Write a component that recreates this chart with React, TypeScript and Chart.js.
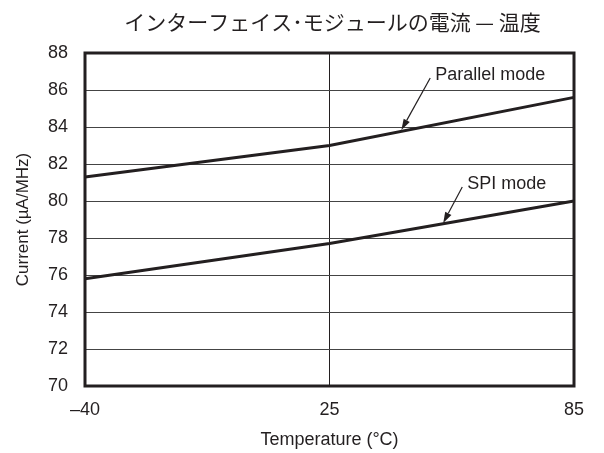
import React, { useEffect, useRef } from "react";
import { Chart, registerables } from "chart.js";

Chart.register(...registerables);

// ---- data ----
const chartTitle = "インターフェイス･モジュールの電流 — 温度";
const xAxisTitle = "Temperature (°C)";
const yAxisTitle = "Current (µA/MHz)";
const temperatureLabels = ["–40", "25", "85"];
const parallelModeCurrent = [81.3, 83.0, 85.6];
const spiModeCurrent = [75.8, 77.7, 80.0];
const yMin = 70;
const yMax = 88;
const yStep = 2;

// annotations (data coordinates: x = category index, y = current)
const annotationLabels = ["Parallel mode", "SPI mode"];
const annotationTailX = [1.412, 1.543];
const annotationTailY = [86.65, 80.76];
const annotationTipX = [1.294, 1.465];
const annotationTipY = [83.84, 78.81];

const INK = "#231f20";
const FONT = "'Liberation Sans', Arial, Helvetica, sans-serif";
const CJK = "'Noto Sans CJK JP', 'Noto Sans', sans-serif";

const framePlugin = {
  id: "frameAndNotes",
  afterDatasetsDraw(chart: any) {
    const { ctx, chartArea: a, scales } = chart;
    const xs = scales.x;
    const ys = scales.y;
    ctx.save();
    ctx.strokeStyle = INK;
    ctx.lineWidth = 3;
    ctx.strokeRect(a.left, a.top, a.right - a.left, a.bottom - a.top);

    ctx.fillStyle = INK;
    ctx.lineWidth = 1.2;
    ctx.font = `18px ${FONT}`;
    ctx.textAlign = "left";
    ctx.textBaseline = "middle";
    for (let i = 0; i < annotationLabels.length; i++) {
      const tx = xs.getPixelForValue(annotationTailX[i]);
      const ty = ys.getPixelForValue(annotationTailY[i]);
      const px = xs.getPixelForValue(annotationTipX[i]);
      const py = ys.getPixelForValue(annotationTipY[i]);
      const ang = Math.atan2(py - ty, px - tx);
      const len = 11;
      const hw = 3.5;
      const bx = px - Math.cos(ang) * len;
      const by = py - Math.sin(ang) * len;
      ctx.beginPath();
      ctx.moveTo(tx, ty);
      ctx.lineTo(bx, by);
      ctx.stroke();
      ctx.beginPath();
      ctx.moveTo(px, py);
      ctx.lineTo(bx + Math.sin(ang) * hw, by - Math.cos(ang) * hw);
      ctx.lineTo(bx - Math.sin(ang) * hw, by + Math.cos(ang) * hw);
      ctx.closePath();
      ctx.fill();
      ctx.fillText(annotationLabels[i], tx + 5, ty - 2.5);
    }

    // chart title, centred over the plot area
    ctx.font = `21px ${CJK}`;
    ctx.textAlign = "center";
    ctx.textBaseline = "middle";
    ctx.fillText(chartTitle, (a.left + a.right) / 2 + 3, a.top - 31);
    ctx.restore();
  },
};

export default function App() {
  const ref = useRef<HTMLCanvasElement | null>(null);

  useEffect(() => {
    if (!ref.current) return;
    const chart = new Chart(ref.current, {
      type: "line",
      data: {
        labels: temperatureLabels,
        datasets: [
          {
            label: "Parallel mode",
            data: parallelModeCurrent,
            borderColor: INK,
            borderWidth: 3,
            pointRadius: 0,
            tension: 0,
            fill: false,
          },
          {
            label: "SPI mode",
            data: spiModeCurrent,
            borderColor: INK,
            borderWidth: 3,
            pointRadius: 0,
            tension: 0,
            fill: false,
          },
        ],
      },
      options: {
        animation: false,
        responsive: false,
        layout: { padding: { left: 0, right: 30, top: 53, bottom: 0 } },
        plugins: {
          legend: { display: false },
          tooltip: { enabled: false },
          title: { display: false },
        },
        scales: {
          x: {
            type: "category",
            offset: false,
            border: { display: false },
            grid: {
              color: (c: any) => (c.index === 1 ? INK : "rgba(0,0,0,0)"),
              lineWidth: 1,
              drawTicks: false,
              tickLength: 0,
            },
            ticks: {
              color: INK,
              font: { family: FONT, size: 18 },
              padding: 13,
              maxRotation: 0,
              autoSkip: false,
            },
            title: {
              display: true,
              text: xAxisTitle,
              color: INK,
              font: { family: FONT, size: 18 },
              padding: { top: 0, bottom: 2 },
            },
            afterFit: (s: any) => {
              s.height = 67;
            },
          },
          y: {
            type: "linear",
            min: yMin,
            max: yMax,
            border: { display: false },
            grid: {
              color: "#444",
              lineWidth: 1,
              drawTicks: false,
              tickLength: 0,
            },
            ticks: {
              stepSize: yStep,
              color: INK,
              font: { family: FONT, size: 18 },
              padding: 17,
            },
            title: {
              display: true,
              text: yAxisTitle,
              color: INK,
              font: { family: FONT, size: 17 },
              padding: { top: 13, bottom: 0 },
            },
            afterFit: (s: any) => {
              s.width = 85;
            },
          },
        },
      },
      plugins: [framePlugin],
    });
    return () => chart.destroy();
  }, []);

  return (
    <div style={{ position: "absolute", left: 0, top: 0, width: 604, height: 453, background: "#fff" }}>
      <canvas ref={ref} width={604} height={453} style={{ display: "block" }} />
    </div>
  );
}
